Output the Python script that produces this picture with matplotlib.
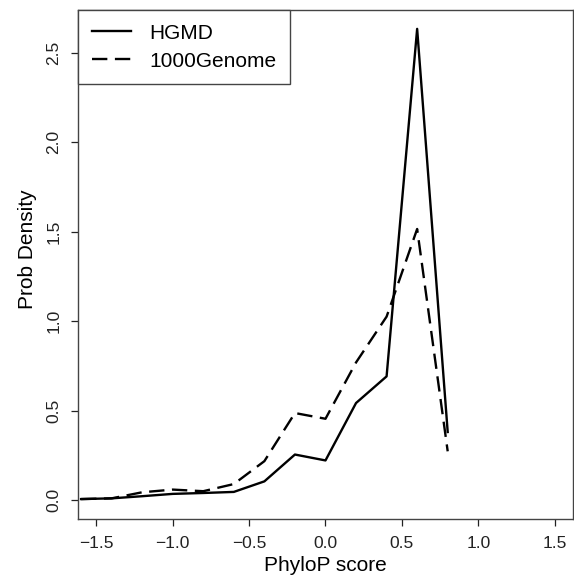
import numpy as np
import matplotlib.pyplot as plt

plt.rcParams['font.family'] = ['Liberation Sans', 'DejaVu Sans']

# PhyloP score bins and density estimates for the two variant sets
phylop = [-1.6, -1.4, -1.2, -1.0, -0.8, -0.6, -0.4, -0.2, 0.0, 0.2, 0.4, 0.6, 0.8]
hgmd = [0.006, 0.010, 0.022, 0.035, 0.040, 0.046, 0.105, 0.255, 0.222, 0.543, 0.692, 2.635, 0.381]
genome1000 = [0.006, 0.010, 0.044, 0.059, 0.050, 0.090, 0.218, 0.487, 0.455, 0.770, 1.026, 1.516, 0.273]

xticks = [-1.5, -1.0, -0.5, 0.0, 0.5, 1.0, 1.5]
yticks = [0.0, 0.5, 1.0, 1.5, 2.0, 2.5]

fig = plt.figure(figsize=(5.74, 5.75), dpi=100)
ax = fig.add_axes([0.1359, 0.0974, 0.8623, 0.8852])

ax.plot(phylop, hgmd, color='black', lw=1.7, label='HGMD')
ax.plot(phylop, genome1000, color='black', lw=1.7, dashes=(6.5, 3.2), label='1000Genome')

ax.set_xlim(-1.62, 1.62)
ymax = max(hgmd)
ax.set_ylim(-0.04 * ymax, ymax * 1.04)
ax.set_xticks(xticks)
ax.set_yticks(yticks)
ax.set_xticklabels([f'{t:.1f}'.replace('-', '\u2212') for t in xticks])
ax.set_yticklabels([f'{t:.1f}' for t in yticks], rotation=90, va='center')
ax.tick_params(direction='out', length=5, width=0.9, pad=7, labelsize=12.5, colors='#222222')

for s in ax.spines.values():
    s.set_color('#444444')
    s.set_linewidth(1.0)

ax.set_xlabel('PhyloP score', fontsize=15, labelpad=4)
ax.set_ylabel('Prob Density', fontsize=15)
ax.yaxis.set_label_coords(-0.083, 0.53)

leg = ax.legend(loc='upper left', bbox_to_anchor=(0, 1), borderaxespad=0,
                fancybox=False, framealpha=1, edgecolor='#444444', fontsize=15,
                handlelength=1.9, handletextpad=0.87, borderpad=0.65, labelspacing=0.43)
leg.get_frame().set_linewidth(1.0)

fig.savefig('out.png', dpi=100)
